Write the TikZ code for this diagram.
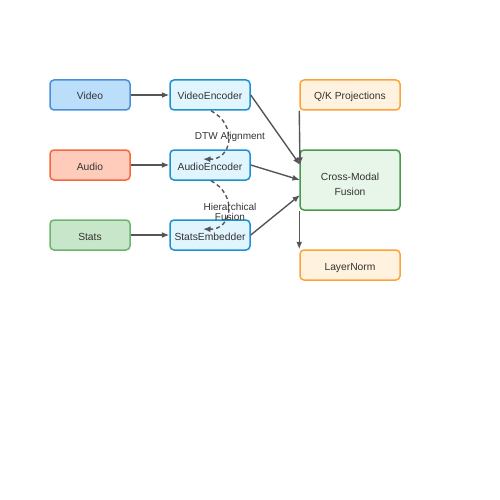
\documentclass[tikz,border=0pt]{standalone}
\usepackage{fontspec}
\setmainfont{Liberation Sans}
\usetikzlibrary{arrows.meta}

\definecolor{txt}{HTML}{333333}
\definecolor{edge}{HTML}{555555}
\definecolor{vidfill}{HTML}{BBDEFB}
\definecolor{vidline}{HTML}{4A90D9}
\definecolor{audfill}{HTML}{FFCCBC}
\definecolor{audline}{HTML}{F4693E}
\definecolor{stafill}{HTML}{C8E6C9}
\definecolor{staline}{HTML}{6DB56F}
\definecolor{encfill}{HTML}{E1F5FE}
\definecolor{encline}{HTML}{1E90D0}
\definecolor{prjfill}{HTML}{FFF3E0}
\definecolor{prjline}{HTML}{FFA23A}
\definecolor{fusfill}{HTML}{E8F5E9}
\definecolor{fusline}{HTML}{4A9A4E}

\begin{document}
\begin{tikzpicture}[x=1pt, y=-1pt,
    box/.style={rounded corners=4pt, line width=1.5pt, minimum width=80pt,
        minimum height=30pt, inner sep=0pt, text=txt, text height=10pt, text depth=0pt,
        font=\fontsize{10.3}{15}\selectfont},
    arr/.style={draw=edge, line width=1.4pt, -{Latex[length=7.5pt,width=6pt]}},
    dasharr/.style={draw=edge, line width=1.4pt, dash pattern=on 4pt off 3pt, -{Latex[length=7.5pt,width=6pt]}},
    lbl/.style={text=txt, font=\fontsize{10}{10}\selectfont, align=center, inner sep=0pt}]
        \useasboundingbox (0,0) rectangle (500,500);

        % Inputs
        \node[box, fill=vidfill, draw=vidline] (video) at (90,95) {Video};
        \node[box, fill=audfill, draw=audline] (audio) at (90,165) {Audio};
        \node[box, fill=stafill, draw=staline] (stats) at (90,235) {Stats};

        % Encoders
        \node[box, fill=encfill, draw=encline] (videnc) at (210,95) {VideoEncoder};
        \node[box, fill=encfill, draw=encline] (audenc) at (210,165) {AudioEncoder};
        \node[box, fill=encfill, draw=encline] (staenc) at (210,235) {StatsEmbedder};

        % Fusion column
        \node[box, minimum width=100pt, fill=prjfill, draw=prjline] (qkproj) at (350,95) {Q/K Projections};
        \node[box, minimum width=100pt, minimum height=60pt, align=center, text height=30pt, text depth=0pt,
            fill=fusfill, draw=fusline] (fusion) at (350,180) {Cross-Modal\\Fusion};
        \node[box, minimum width=100pt, fill=prjfill, draw=prjline] (norm) at (350,265) {LayerNorm};

        \coordinate (qkin) at (300,165);
        \coordinate (audin) at (300,180);
        \coordinate (stain) at (300,195);

        % Arrows
        \draw[arr] (video) -- (videnc);
        \draw[arr] (audio) -- (audenc);
        \draw[arr] (stats) -- (staenc);

        \draw[arr] (videnc.east) -- (qkin);
        \draw[arr] (audenc.east) -- (audin);
        \draw[arr] (staenc.east) -- (stain);

        \draw[arr] (qkproj.south west) -- (qkin);
        \draw[arr] (fusion.south west) -- (norm.north west);

        % Alignment curves
        \draw[dasharr] ([xshift=1pt]videnc.south) .. controls (238,125) and (232,160) .. ([xshift=-7pt,yshift=6pt]audenc.center);
        \draw[dasharr] ([xshift=1pt]audenc.south) .. controls (238,195) and (232,230) .. ([xshift=-7pt,yshift=6pt]staenc.center);

        \node[lbl] (dtw) at (230,137) {DTW Alignment};
        \node[lbl] (hier) at (230,211.5) {Hierarchical\\Fusion};
\end{tikzpicture}
\end{document}
